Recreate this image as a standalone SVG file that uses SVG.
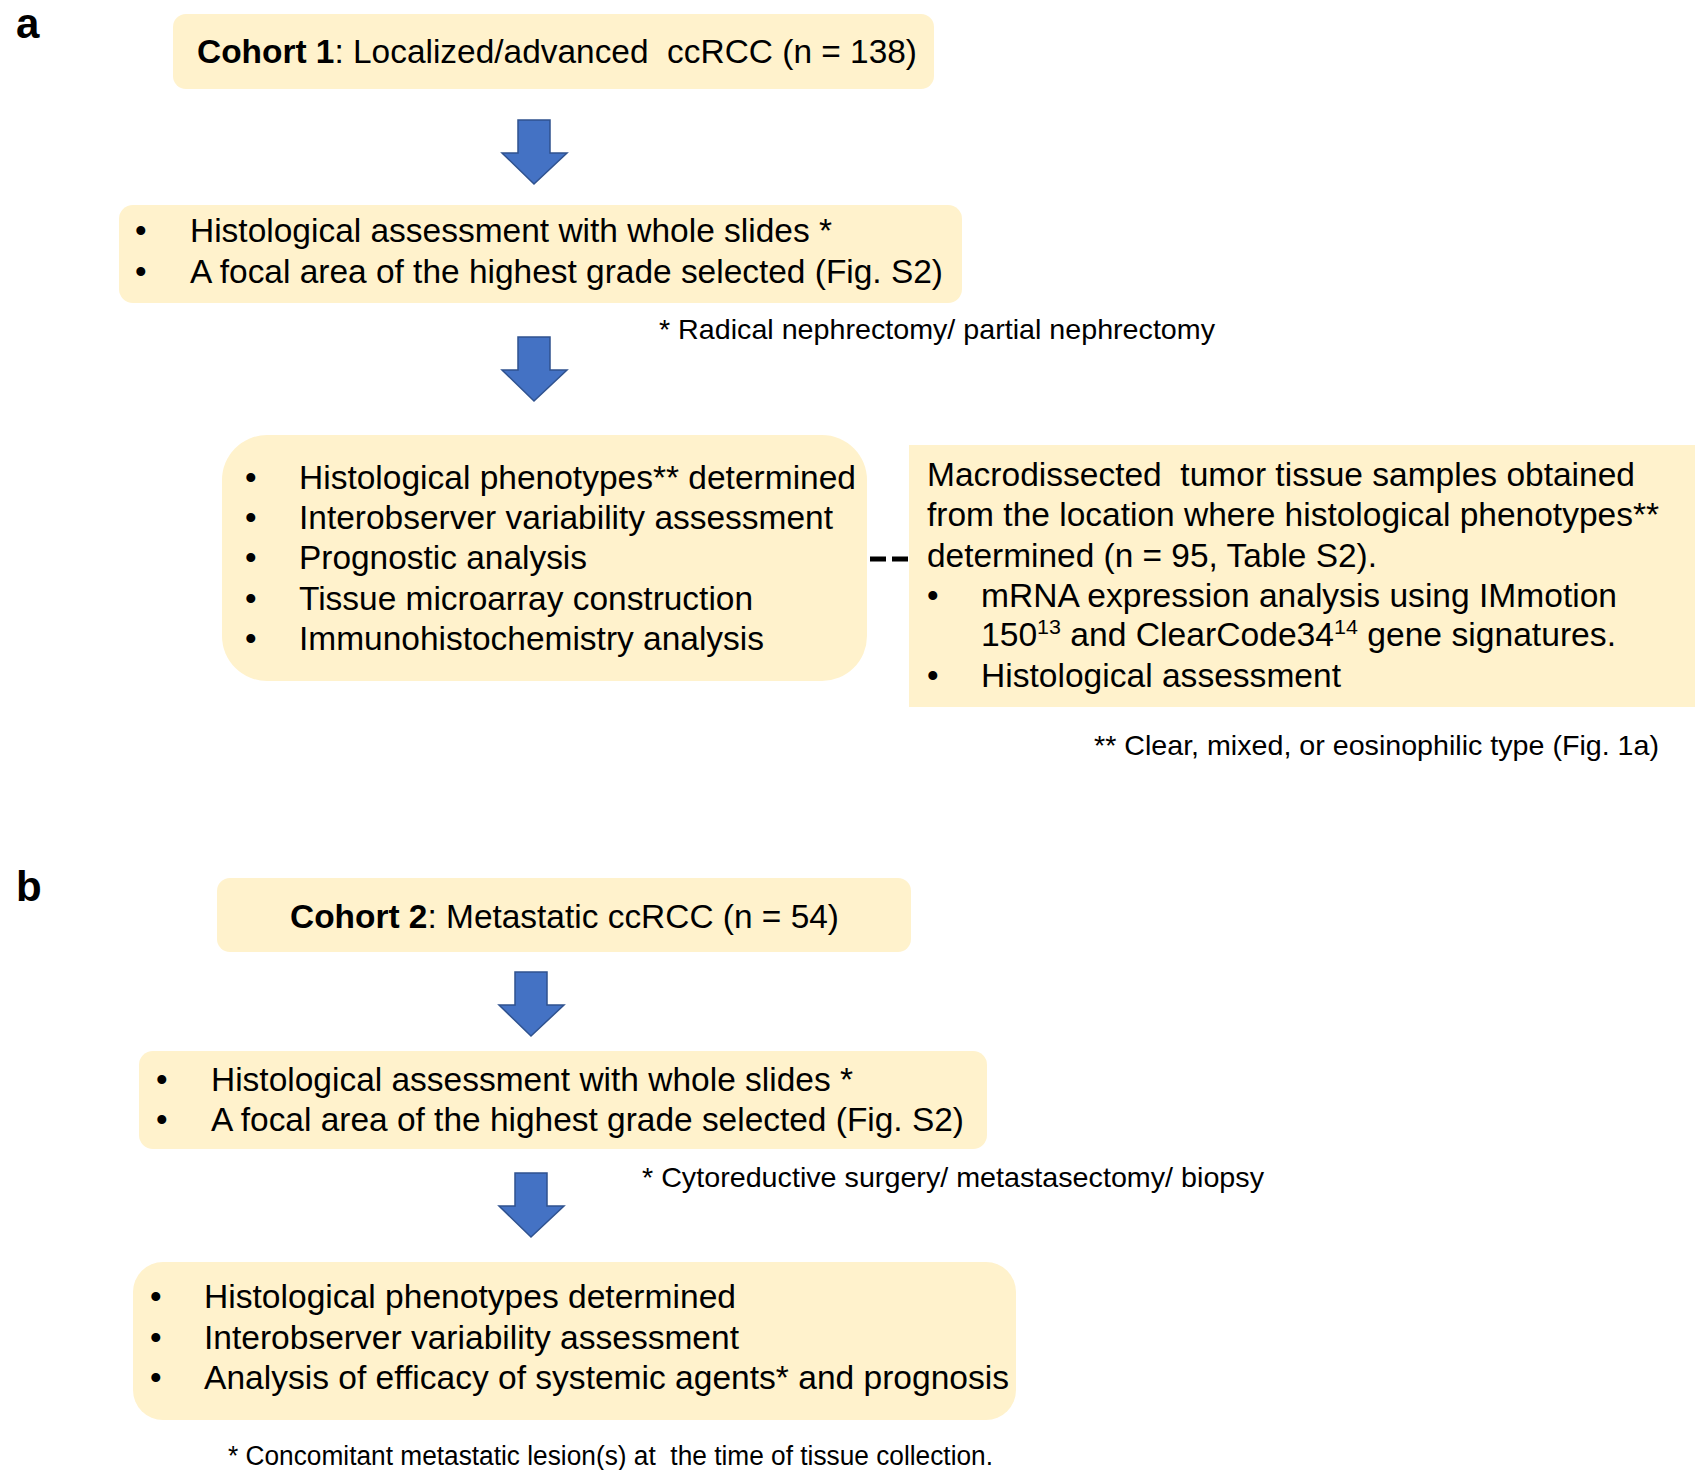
<svg xmlns="http://www.w3.org/2000/svg" width="1695" height="1470" viewBox="0 0 1695 1470">
<defs>
<style>
.box{fill:#FFF2CC;}
.t{font-family:"Liberation Sans",Arial,sans-serif;font-size:33px;fill:#000;}
.fn{font-family:"Liberation Sans",Arial,sans-serif;font-size:28.5px;fill:#000;}
.fn2{font-family:"Liberation Sans",Arial,sans-serif;font-size:27px;fill:#000;}
.lbl{font-family:"Liberation Sans",Arial,sans-serif;font-size:42px;font-weight:bold;fill:#000;}
.b{font-weight:bold;}
.sup{font-size:21px;}
.arrow{fill:#4472C4;stroke:#2F528F;stroke-width:1.5;}
.dash{stroke:#000;stroke-width:5;stroke-dasharray:16 6;fill:none;}
</style>
<path id="arr" d="M16,0 H48 V33 H65 L32,64 L0,33 H16 Z"/>
</defs>
<rect width="1695" height="1470" fill="#fff"/>
<text class="lbl" x="16" y="38">a</text>
<text class="lbl" x="16" y="901">b</text>

<g id="connectors">
<use href="#arr" class="arrow" x="502" y="120"/>
<use href="#arr" class="arrow" x="502" y="337"/>
<use href="#arr" class="arrow" x="499" y="972"/>
<use href="#arr" class="arrow" x="499" y="1173"/>
<line class="dash" x1="870" y1="559" x2="908" y2="559"/>
</g>

<g id="cohort1">
<rect class="box" x="173" y="14" width="761" height="75" rx="13"/>
<text class="t" x="197" y="63" textLength="720" lengthAdjust="spacingAndGlyphs"><tspan class="b">Cohort 1</tspan>: Localized/advanced&#160; ccRCC (n = 138)</text>
</g>

<g id="histo1">
<rect class="box" x="119" y="205" width="843" height="98" rx="14"/>
<text class="t" x="135" y="242">•</text>
<text class="t" x="190" y="242" textLength="642" lengthAdjust="spacingAndGlyphs">Histological assessment with whole slides *</text>
<text class="t" x="135" y="283">•</text>
<text class="t" x="190" y="283" textLength="753" lengthAdjust="spacingAndGlyphs">A focal area of the highest grade selected (Fig. S2)</text>
</g>
<text class="fn" x="659" y="339" textLength="556" lengthAdjust="spacingAndGlyphs">* Radical nephrectomy/ partial nephrectomy</text>

<g id="analysis1">
<rect class="box" x="222" y="435" width="645" height="246" rx="45"/>
<text class="t" x="245" y="489">•</text>
<text class="t" x="299" y="489" textLength="557" lengthAdjust="spacingAndGlyphs">Histological phenotypes** determined</text>
<text class="t" x="245" y="529">•</text>
<text class="t" x="299" y="529" textLength="534" lengthAdjust="spacingAndGlyphs">Interobserver variability assessment</text>
<text class="t" x="245" y="569">•</text>
<text class="t" x="299" y="569" textLength="288" lengthAdjust="spacingAndGlyphs">Prognostic analysis</text>
<text class="t" x="245" y="610">•</text>
<text class="t" x="299" y="610" textLength="454" lengthAdjust="spacingAndGlyphs">Tissue microarray construction</text>
<text class="t" x="245" y="650">•</text>
<text class="t" x="299" y="650" textLength="465" lengthAdjust="spacingAndGlyphs">Immunohistochemistry analysis</text>
</g>

<g id="macro">
<rect class="box" x="909" y="445" width="786" height="262"/>
<text class="t" x="927" y="486" textLength="708" lengthAdjust="spacingAndGlyphs">Macrodissected&#160; tumor tissue samples obtained</text>
<text class="t" x="927" y="526" textLength="732" lengthAdjust="spacingAndGlyphs">from the location where histological phenotypes**</text>
<text class="t" x="927" y="567" textLength="450" lengthAdjust="spacingAndGlyphs">determined (n = 95, Table S2).</text>
<text class="t" x="927" y="607">•</text>
<text class="t" x="981" y="607" textLength="636" lengthAdjust="spacingAndGlyphs">mRNA expression analysis using IMmotion</text>
<text class="t" x="981" y="646" textLength="635" lengthAdjust="spacingAndGlyphs">150<tspan class="sup" dy="-12">13</tspan><tspan dy="12"> and ClearCode34</tspan><tspan class="sup" dy="-12">14</tspan><tspan dy="12"> gene signatures.</tspan></text>
<text class="t" x="927" y="687">•</text>
<text class="t" x="981" y="687" textLength="360" lengthAdjust="spacingAndGlyphs">Histological assessment</text>
</g>
<text class="fn" x="1094" y="755" textLength="565" lengthAdjust="spacingAndGlyphs">** Clear, mixed, or eosinophilic type (Fig. 1a)</text>

<g id="cohort2">
<rect class="box" x="217" y="878" width="694" height="74" rx="13"/>
<text class="t" x="290" y="928" textLength="549" lengthAdjust="spacingAndGlyphs"><tspan class="b">Cohort 2</tspan>: Metastatic ccRCC (n = 54)</text>
</g>

<g id="histo2">
<rect class="box" x="139" y="1051" width="848" height="98" rx="14"/>
<text class="t" x="156" y="1091">•</text>
<text class="t" x="211" y="1091" textLength="642" lengthAdjust="spacingAndGlyphs">Histological assessment with whole slides *</text>
<text class="t" x="156" y="1131">•</text>
<text class="t" x="211" y="1131" textLength="753" lengthAdjust="spacingAndGlyphs">A focal area of the highest grade selected (Fig. S2)</text>
</g>
<text class="fn" x="642" y="1187" textLength="622" lengthAdjust="spacingAndGlyphs">* Cytoreductive surgery/ metastasectomy/ biopsy</text>

<g id="analysis2">
<rect class="box" x="133" y="1262" width="883" height="158" rx="30"/>
<text class="t" x="150" y="1308">•</text>
<text class="t" x="204" y="1308" textLength="532" lengthAdjust="spacingAndGlyphs">Histological phenotypes determined</text>
<text class="t" x="150" y="1349">•</text>
<text class="t" x="204" y="1349" textLength="535" lengthAdjust="spacingAndGlyphs">Interobserver variability assessment</text>
<text class="t" x="150" y="1389">•</text>
<text class="t" x="204" y="1389" textLength="805" lengthAdjust="spacingAndGlyphs">Analysis of efficacy of systemic agents* and prognosis</text>
</g>
<text class="fn2" x="228" y="1465" textLength="765" lengthAdjust="spacingAndGlyphs">* Concomitant metastatic lesion(s) at&#160; the time of tissue collection.</text>
</svg>
